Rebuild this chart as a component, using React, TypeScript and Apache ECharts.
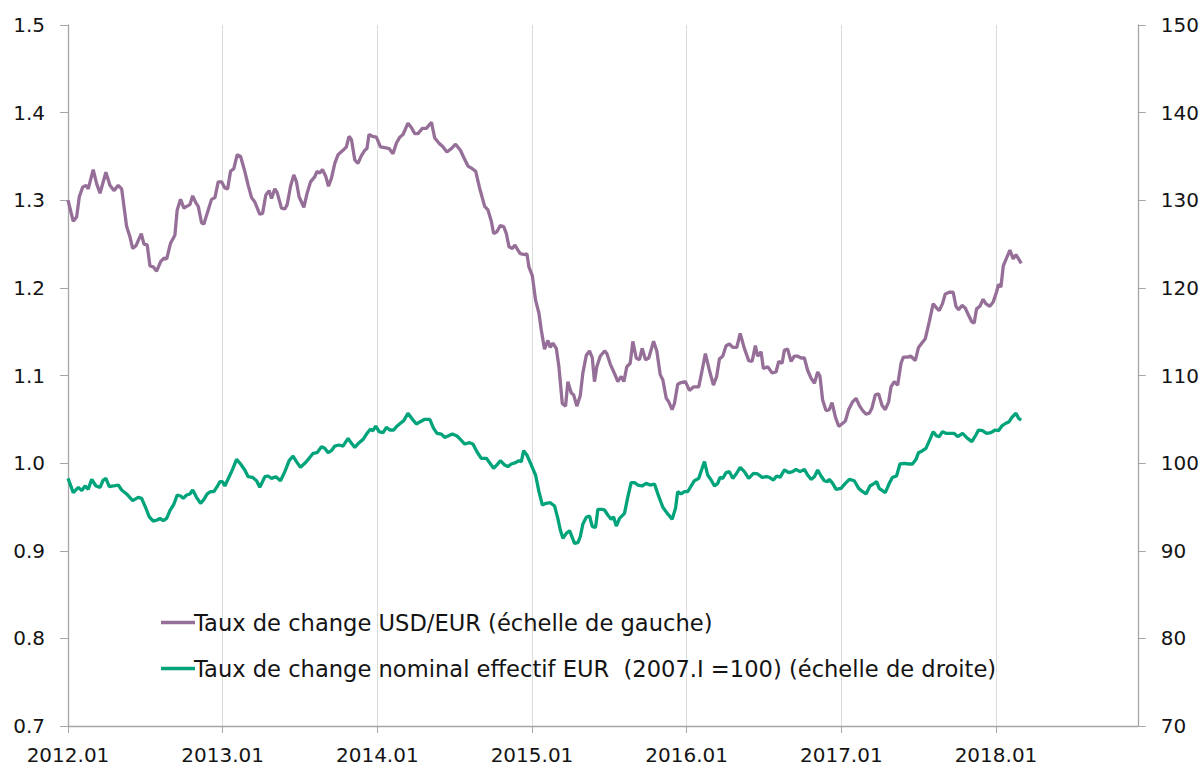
import React, { useEffect, useRef } from "react";
import * as echarts from "echarts";

const yearTicks = ["2012.01", "2013.01", "2014.01", "2015.01", "2016.01", "2017.01", "2018.01"];
const seriesNames = [
  "Taux de change USD/EUR (échelle de gauche)",
  "Taux de change nominal effectif EUR  (2007.I =100) (échelle de droite)",
];

// USD/EUR (left scale) — dates as decimal years
const usdT = [
  2012.0, 2012.034, 2012.056, 2012.073, 2012.095, 2012.116, 2012.131, 2012.163, 2012.185, 2012.207,
  2012.245, 2012.271, 2012.297, 2012.325, 2012.347, 2012.379, 2012.401, 2012.418, 2012.439, 2012.474,
  2012.491, 2012.512, 2012.53, 2012.551, 2012.573, 2012.599, 2012.62, 2012.638, 2012.663, 2012.691,
  2012.706, 2012.728, 2012.749, 2012.767, 2012.788, 2012.806, 2012.827, 2012.842, 2012.864, 2012.879,
  2012.896, 2012.928, 2012.95, 2012.971, 2012.993, 2013.014, 2013.032, 2013.051, 2013.072, 2013.094,
  2013.116, 2013.143, 2013.165, 2013.187, 2013.208, 2013.24, 2013.258, 2013.279, 2013.3, 2013.316,
  2013.337, 2013.352, 2013.38, 2013.402, 2013.417, 2013.439, 2013.46, 2013.477, 2013.494, 2013.525,
  2013.546, 2013.568, 2013.596, 2013.61, 2013.628, 2013.645, 2013.667, 2013.684, 2013.703, 2013.725,
  2013.746, 2013.778, 2013.8, 2013.817, 2013.833, 2013.854, 2013.875, 2013.897, 2013.919, 2013.933,
  2013.946, 2013.968, 2013.994, 2014.02, 2014.048, 2014.076, 2014.101, 2014.123, 2014.145, 2014.166,
  2014.198, 2014.22, 2014.242, 2014.263, 2014.291, 2014.317, 2014.35, 2014.371, 2014.399, 2014.424,
  2014.45, 2014.479, 2014.506, 2014.537, 2014.558, 2014.586, 2014.614, 2014.636, 2014.661, 2014.694,
  2014.715, 2014.737, 2014.752, 2014.773, 2014.795, 2014.817, 2014.834, 2014.851, 2014.873, 2014.89,
  2014.909, 2014.924, 2014.952, 2014.967, 2014.98, 2015.002, 2015.023, 2015.045, 2015.06, 2015.081,
  2015.103, 2015.118, 2015.135, 2015.157, 2015.174, 2015.196, 2015.217, 2015.232, 2015.254, 2015.269,
  2015.29, 2015.312, 2015.329, 2015.351, 2015.372, 2015.39, 2015.404, 2015.419, 2015.441, 2015.469,
  2015.484, 2015.506, 2015.534, 2015.555, 2015.577, 2015.594, 2015.613, 2015.635, 2015.652, 2015.674,
  2015.695, 2015.712, 2015.734, 2015.755, 2015.786, 2015.807, 2015.829, 2015.846, 2015.868, 2015.884,
  2015.906, 2015.921, 2015.942, 2015.964, 2015.992, 2016.018, 2016.044, 2016.078, 2016.1, 2016.121,
  2016.147, 2016.173, 2016.194, 2016.212, 2016.233, 2016.255, 2016.276, 2016.298, 2016.324, 2016.346,
  2016.373, 2016.401, 2016.423, 2016.444, 2016.459, 2016.481, 2016.496, 2016.524, 2016.552, 2016.578,
  2016.595, 2016.617, 2016.632, 2016.653, 2016.675, 2016.696, 2016.718, 2016.74, 2016.761, 2016.782,
  2016.804, 2016.826, 2016.847, 2016.862, 2016.879, 2016.901, 2016.922, 2016.94, 2016.961, 2016.983,
  2017.005, 2017.026, 2017.047, 2017.073, 2017.095, 2017.116, 2017.138, 2017.16, 2017.181, 2017.198,
  2017.22, 2017.241, 2017.263, 2017.284, 2017.306, 2017.321, 2017.342, 2017.364, 2017.386, 2017.401,
  2017.428, 2017.45, 2017.478, 2017.499, 2017.521, 2017.543, 2017.568, 2017.594, 2017.616, 2017.633,
  2017.654, 2017.672, 2017.698, 2017.723, 2017.741, 2017.758, 2017.78, 2017.801, 2017.822, 2017.844,
  2017.859, 2017.874, 2017.896, 2017.917, 2017.934, 2017.96, 2017.982, 2018.003, 2018.016, 2018.032,
  2018.047, 2018.068, 2018.09, 2018.111, 2018.129, 2018.146, 2018.163,
];
const usdV = [
  1.3, 1.276, 1.281, 1.304, 1.315, 1.317, 1.313, 1.335, 1.319, 1.308,
  1.332, 1.317, 1.311, 1.317, 1.313, 1.27, 1.258, 1.245, 1.248, 1.262,
  1.25, 1.249, 1.225, 1.224, 1.219, 1.23, 1.234, 1.233, 1.251, 1.26,
  1.289, 1.301, 1.291, 1.293, 1.295, 1.305, 1.297, 1.293, 1.274, 1.273,
  1.283, 1.301, 1.303, 1.321, 1.321, 1.314, 1.313, 1.333, 1.336, 1.352,
  1.35, 1.333, 1.317, 1.303, 1.298, 1.284, 1.285, 1.306, 1.311, 1.302,
  1.313, 1.309, 1.291, 1.29, 1.295, 1.316, 1.329, 1.321, 1.304, 1.292,
  1.308, 1.321, 1.327, 1.333, 1.331, 1.335, 1.327, 1.316, 1.325, 1.342,
  1.352, 1.357, 1.361, 1.373, 1.369, 1.346, 1.342, 1.351, 1.357, 1.359,
  1.375, 1.373, 1.372, 1.361, 1.36, 1.359, 1.353, 1.365, 1.372, 1.375,
  1.388, 1.383, 1.376, 1.376, 1.382, 1.382, 1.389, 1.371, 1.365, 1.361,
  1.355, 1.359, 1.364, 1.357, 1.349, 1.339, 1.336, 1.333, 1.314, 1.293,
  1.289, 1.276, 1.262, 1.264, 1.271, 1.27, 1.262, 1.247, 1.245, 1.249,
  1.243, 1.239, 1.238, 1.239, 1.224, 1.214, 1.186, 1.171, 1.152, 1.13,
  1.14, 1.132, 1.137, 1.131, 1.11, 1.068, 1.065, 1.093, 1.08, 1.078,
  1.065, 1.077, 1.103, 1.123, 1.128, 1.12, 1.093, 1.11, 1.122, 1.128,
  1.125, 1.113, 1.102, 1.093, 1.099, 1.093, 1.11, 1.114, 1.139, 1.12,
  1.118, 1.131, 1.118, 1.12, 1.139, 1.128, 1.101, 1.095, 1.074, 1.07,
  1.061, 1.068, 1.09, 1.092, 1.093, 1.083, 1.087, 1.087, 1.106, 1.125,
  1.106, 1.089, 1.099, 1.119, 1.122, 1.134, 1.136, 1.132, 1.132, 1.148,
  1.131, 1.117, 1.116, 1.134, 1.122, 1.127, 1.108, 1.11, 1.103, 1.104,
  1.116, 1.114, 1.129, 1.13, 1.116, 1.122, 1.122, 1.12, 1.12, 1.106,
  1.097, 1.091, 1.104, 1.099, 1.072, 1.06, 1.061, 1.069, 1.053, 1.042,
  1.045, 1.048, 1.061, 1.07, 1.074, 1.066, 1.06, 1.056, 1.057, 1.063,
  1.078, 1.079, 1.066, 1.061, 1.07, 1.087, 1.093, 1.089, 1.114, 1.121,
  1.121, 1.122, 1.117, 1.132, 1.137, 1.142, 1.161, 1.182, 1.177, 1.174,
  1.182, 1.193, 1.195, 1.195, 1.179, 1.175, 1.18, 1.177, 1.169, 1.161,
  1.16, 1.176, 1.179, 1.187, 1.182, 1.179, 1.184, 1.195, 1.204, 1.201,
  1.225, 1.234, 1.243, 1.233, 1.238, 1.233, 1.228,
];

// Nominal effective exchange rate EUR (right scale, 2007.I = 100)
const neerT = [
  2012.0, 2012.034, 2012.067, 2012.089, 2012.11, 2012.131, 2012.153, 2012.181, 2012.207, 2012.228,
  2012.245, 2012.267, 2012.293, 2012.325, 2012.347, 2012.379, 2012.418, 2012.454, 2012.476, 2012.504,
  2012.525, 2012.551, 2012.577, 2012.594, 2012.616, 2012.638, 2012.659, 2012.685, 2012.706, 2012.728,
  2012.745, 2012.767, 2012.788, 2012.806, 2012.831, 2012.857, 2012.879, 2012.9, 2012.922, 2012.943,
  2012.964, 2012.982, 2012.999, 2013.014, 2013.042, 2013.064, 2013.09, 2013.116, 2013.143, 2013.165,
  2013.193, 2013.219, 2013.24, 2013.273, 2013.294, 2013.316, 2013.344, 2013.374, 2013.402, 2013.43,
  2013.455, 2013.477, 2013.503, 2013.531, 2013.559, 2013.585, 2013.61, 2013.639, 2013.66, 2013.682,
  2013.703, 2013.725, 2013.753, 2013.778, 2013.811, 2013.833, 2013.854, 2013.882, 2013.908, 2013.933,
  2013.955, 2013.972, 2013.99, 2014.011, 2014.037, 2014.059, 2014.08, 2014.106, 2014.123, 2014.149,
  2014.171, 2014.198, 2014.227, 2014.253, 2014.278, 2014.306, 2014.339, 2014.364, 2014.386, 2014.414,
  2014.435, 2014.457, 2014.485, 2014.515, 2014.537, 2014.565, 2014.597, 2014.618, 2014.644, 2014.672,
  2014.705, 2014.726, 2014.752, 2014.773, 2014.795, 2014.823, 2014.844, 2014.866, 2014.894, 2014.915,
  2014.931, 2014.946, 2014.967, 2014.995, 2015.023, 2015.045, 2015.067, 2015.092, 2015.118, 2015.146,
  2015.167, 2015.183, 2015.2, 2015.222, 2015.243, 2015.26, 2015.275, 2015.297, 2015.312, 2015.329,
  2015.351, 2015.372, 2015.39, 2015.411, 2015.426, 2015.454, 2015.469, 2015.49, 2015.512, 2015.527,
  2015.545, 2015.566, 2015.598, 2015.62, 2015.641, 2015.663, 2015.684, 2015.712, 2015.738, 2015.764,
  2015.792, 2015.82, 2015.846, 2015.871, 2015.906, 2015.928, 2015.942, 2015.964, 2015.986, 2016.007,
  2016.029, 2016.05, 2016.078, 2016.1, 2016.115, 2016.136, 2016.158, 2016.18, 2016.201, 2016.216,
  2016.233, 2016.255, 2016.276, 2016.298, 2016.32, 2016.346, 2016.373, 2016.401, 2016.432, 2016.459,
  2016.488, 2016.517, 2016.535, 2016.561, 2016.582, 2016.604, 2016.632, 2016.66, 2016.685, 2016.707,
  2016.733, 2016.761, 2016.782, 2016.804, 2016.826, 2016.847, 2016.869, 2016.89, 2016.911, 2016.922,
  2016.944, 2016.966, 2016.998, 2017.026, 2017.052, 2017.084, 2017.112, 2017.138, 2017.16, 2017.185,
  2017.213, 2017.228, 2017.245, 2017.284, 2017.31, 2017.331, 2017.357, 2017.379, 2017.407, 2017.435,
  2017.46, 2017.483, 2017.499, 2017.525, 2017.547, 2017.573, 2017.594, 2017.616, 2017.633, 2017.654,
  2017.676, 2017.702, 2017.73, 2017.752, 2017.784, 2017.816, 2017.844, 2017.87, 2017.887, 2017.913,
  2017.939, 2017.967, 2017.995, 2018.016, 2018.038, 2018.064, 2018.085, 2018.103, 2018.129, 2018.146,
  2018.163,
];
const neerV = [
  98.26, 96.63, 97.24, 96.86, 97.39, 97.01, 98.15, 97.39, 97.24, 98.07,
  98.26, 97.31, 97.39, 97.5, 96.93, 96.48, 95.71, 96.1, 95.98, 94.84,
  93.88, 93.39, 93.51, 93.7, 93.43, 93.7, 94.57, 95.33, 96.36, 96.25,
  95.98, 96.36, 96.48, 96.93, 96.1, 95.41, 95.87, 96.48, 96.74, 96.74,
  97.31, 97.88, 97.88, 97.39, 98.45, 99.29, 100.43, 99.9, 99.22, 98.45,
  98.38, 97.99, 97.24, 98.45, 98.53, 98.26, 98.45, 97.99, 99.03, 100.28,
  100.81, 100.17, 99.52, 99.98, 100.55, 101.12, 101.19, 101.87, 101.69, 101.19,
  101.42, 101.95, 102.07, 101.95, 102.83, 102.26, 101.8, 102.33, 102.71, 103.4,
  103.86, 103.7, 104.24, 103.59, 103.47, 104.09, 103.78, 103.78, 104.16, 104.55,
  104.85, 105.69, 105.0, 104.47, 104.73, 105.0, 105.0, 103.97, 103.4, 103.32,
  102.94, 103.1, 103.32, 103.1, 102.71, 102.18, 102.33, 102.18, 101.3, 100.55,
  100.55, 100.05, 99.41, 99.79, 100.28, 99.79, 99.6, 99.9, 100.05, 100.28,
  100.17, 101.42, 100.93, 99.79, 98.64, 96.74, 95.22, 95.41, 95.48, 95.11,
  93.7, 92.37, 91.42, 91.99, 92.29, 91.53, 90.85, 90.92, 91.6, 93.05,
  93.82, 93.97, 92.75, 92.68, 94.73, 94.73, 94.65, 94.08, 93.59, 93.88,
  92.82, 93.7, 94.27, 96.17, 97.77, 97.77, 97.5, 97.39, 97.69, 97.5,
  97.62, 96.17, 94.96, 94.35, 93.59, 94.84, 96.74, 96.48, 96.74, 96.74,
  97.39, 97.99, 98.26, 99.41, 100.17, 98.64, 98.07, 97.39, 97.69, 98.38,
  98.26, 98.91, 99.03, 98.26, 98.76, 99.52, 99.03, 98.26, 98.84, 98.76,
  98.38, 98.45, 98.38, 98.07, 98.53, 98.38, 99.22, 98.91, 99.03, 99.29,
  99.03, 99.29, 98.64, 98.15, 98.45, 99.22, 98.53, 97.99, 97.88, 98.15,
  97.69, 97.01, 97.12, 97.69, 98.15, 97.99, 97.12, 96.74, 96.48, 97.39,
  97.69, 97.88, 97.12, 96.63, 97.69, 98.38, 98.53, 99.9, 99.98, 99.9,
  99.9, 100.43, 101.19, 101.42, 101.69, 102.71, 103.59, 103.1, 103.02, 103.59,
  103.4, 103.4, 103.4, 103.02, 103.4, 102.83, 102.45, 103.21, 103.78, 103.7,
  103.4, 103.47, 103.78, 103.7, 104.24, 104.55, 104.73, 105.23, 105.69, 105.12,
  104.92,
];

const X_MIN = 2012;
const X_MAX = 2018.917;

const FONT = "'DejaVu Sans', 'Open Sans', sans-serif";
const TXT = "#141414";
const AXIS = "#a6a6a6";

export default function App() {
  const ref = useRef<HTMLDivElement>(null);
  useEffect(() => {
    if (!ref.current) return;
    const chart = echarts.init(ref.current, undefined, { renderer: "svg" });
    const usdData = usdT.map((t, i) => [t, usdV[i]]);
    const neerData = neerT.map((t, i) => [t, neerV[i]]);
    chart.setOption({
      animation: false,
      backgroundColor: "#ffffff",
      grid: { left: 68, right: 64, top: 25, bottom: 41, containLabel: false },
      legend: {
        orient: "vertical",
        left: 156,
        top: 606,
        itemGap: 23,
        itemWidth: 34,
        itemHeight: 3.5,
        icon: "rect",
        textStyle: { fontFamily: FONT, fontSize: 22.6, color: TXT, padding: [0, 0, 0, -6] },
        data: seriesNames,
      },
      xAxis: {
        type: "value",
        min: X_MIN,
        max: X_MAX,
        interval: 1,
        axisLine: { show: true, lineStyle: { color: AXIS, width: 1.3 } },
        axisTick: { show: true, length: 7, lineStyle: { color: AXIS } },
        splitLine: { show: true, lineStyle: { color: "#dcdcdc", width: 1 } },
        axisLabel: {
          margin: 19,
          fontFamily: FONT,
          fontSize: 20,
          color: TXT,
          showMaxLabel: false,
          formatter: (v: number) => {
            const idx = Math.round(v - X_MIN);
            return Math.abs(v - Math.round(v)) < 1e-6 && yearTicks[idx] ? yearTicks[idx] : "";
          },
        },
      },
      yAxis: [
        {
          type: "value",
          min: 0.7,
          max: 1.5,
          interval: 0.1,
          position: "left",
          axisLine: { show: true, lineStyle: { color: AXIS, width: 1.3 } },
          axisTick: { show: true, length: 8, lineStyle: { color: AXIS } },
          splitLine: { show: false },
          axisLabel: {
            margin: 23,
            fontFamily: FONT,
            fontSize: 20,
            color: TXT,
            formatter: (v: number) => v.toFixed(1),
          },
        },
        {
          type: "value",
          min: 70,
          max: 150,
          interval: 10,
          position: "right",
          axisLine: { show: true, lineStyle: { color: AXIS, width: 1.3 } },
          axisTick: { show: true, length: 8, lineStyle: { color: AXIS } },
          splitLine: { show: false },
          axisLabel: {
            margin: 23,
            fontFamily: FONT,
            fontSize: 20,
            color: TXT,
          },
        },
      ],
      series: [
        {
          name: seriesNames[0],
          type: "line",
          yAxisIndex: 0,
          data: usdData,
          showSymbol: false,
          symbol: "none",
          lineStyle: { color: "#966f99", width: 3.3 },
          itemStyle: { color: "#966f99" },
        },
        {
          name: seriesNames[1],
          type: "line",
          yAxisIndex: 1,
          data: neerData,
          showSymbol: false,
          symbol: "none",
          lineStyle: { color: "#00a37a", width: 3.3 },
          itemStyle: { color: "#00a37a" },
        },
      ],
    });
    return () => chart.dispose();
  }, []);
  return (
    <div
      ref={ref}
      style={{ position: "fixed", left: 0, top: 0, width: 1202, height: 767, background: "#fff" }}
    />
  );
}
